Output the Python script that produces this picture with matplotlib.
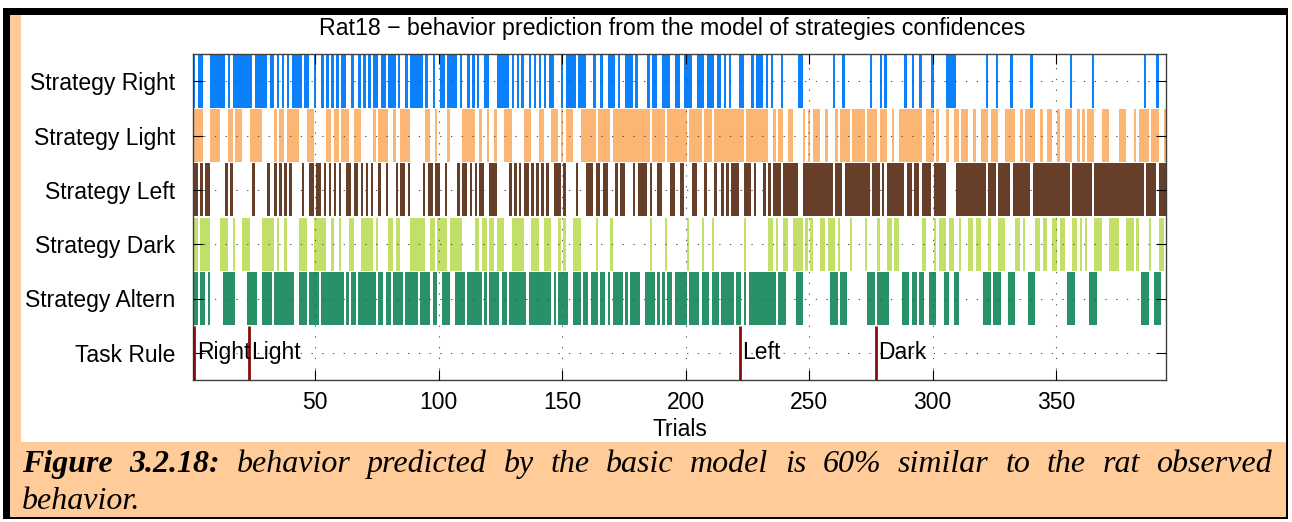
import matplotlib
matplotlib.use("Agg")
import matplotlib.pyplot as plt
from matplotlib.patches import Rectangle

# ---------------------------------------------------------------- data
n_trials = 394
row_labels = ["Strategy Right", "Strategy Light", "Strategy Left",
              "Strategy Dark", "Strategy Altern", "Task Rule"]
row_colors = ["#0a80fa", "#fdb574", "#673f29", "#c2df6a", "#289168"]

# trials (runs "a-b", inclusive) on which each strategy is predicted
right_runs = ("1,3-4,8-13,15,17-24,26-30,32-33,35,37,39,41-44,46-47,50,53,55,57,59,61-62,65,68,70,72,"
              "74-75,77-78,80-82,84,87,89-93,95,98,101-102,104-107,109,112,114,116,119-120,124-128,130,"
              "132,134,137,139,141,143,145-146,150,152-155,157-159,163,166,169-171,173,176-178,180,185,"
              "187-188,191-193,196-197,200-202,205-207,209-211,213-214,216,218,222-223,227,229-231,233,"
              "235,239,246-247,260,264,275,279,281,289,292,295,300,306-309,322,326,332,340,356,365,386,391")
light_runs = ("1-4,8-11,15-16,18-20,24-28,34,36-37,39-43,47-49,55-56,58-59,61-63,66-68,74,76-79,82,85-88,"
              "95-96,99,104,110-114,117,120,123,127-129,135-137,141-142,146-148,150,152-154,158-163,"
              "165-169,171-185,187-191,193-200,202-206,208-210,212-223,225-233,236,238-239,242-243,248,"
              "250,252-254,257,261,263-266,268-272,274-277,279-281,284,287-295,298-300,302,306,309-310,"
              "312-314,317,320-322,324-326,330-333,336,338-341,344,347-348,351,354-356,359,361,363-365,"
              "369-371,376-378,382,384-387,389-391,394")
left_runs = ("1-2,4,6-7,14,16,25,31,34,36,38,40,45,48-49,51-52,54,56,58,60,63-64,66-67,69,71,73,76,79,"
             "83,85-86,88,94,96-97,99-100,103,108,110-111,113,115,117-118,121-123,129,131,133,135-136,"
             "138,140,142,144,147-149,151,156,160-162,164-165,167-168,172,174-175,179,181-184,186,"
             "189-190,194-195,198-199,203-204,208,212,215,217,219-221,224-226,228,232,234,236-238,"
             "240-245,248-259,261-263,265-274,276-278,280,282-288,290-291,293-294,296-299,301-305,"
             "310-321,323-325,327-331,333-339,341-355,357-364,366-385,387-390,392-394")
dark_runs = ("1-2,4-7,12-14,17,21-23,29-33,35,38,44-46,50-54,57,60,64-65,69-73,75,80-81,83-84,89-94,"
             "97-98,100-103,105-109,115-116,118-119,121-122,124-126,130-134,138-140,143-145,149,151,"
             "155-157,164,170,186,192,201,207,211,224,234-235,237,240-241,244-247,249,251,255-256,"
             "258-260,262,267,273,278,282-283,285-286,296-297,301,303-305,307-308,311,315-316,318-319,"
             "323,327-329,334-335,337,342-343,345-346,349-350,352-353,357-358,360,362,366-368,372-375,"
             "379-381,383,388,392-393")
altern_runs = ("1-2,4-5,7,13-17,23-26,29-32,34-41,44-46,48-51,53-61,63,65-66,68-74,76-77,79-80,82-85,"
               "87-91,93-96,98-99,102-104,107-110,112-117,119,121-124,126-127,129-135,137-145,147,"
               "149-152,155-157,159-160,162-164,166-167,169,171-174,176,178-181,184-187,189,191,193-194,"
               "196-200,202-205,207-209,211-213,215-219,221-222,224,226-236,238-240,245-247,259-261,"
               "263-265,274-276,278-282,288-290,292-293,295-296,299-301,305-306,309-310,321-323,325-327,"
               "331-333,339-341,355-357,364-366,385-387,390-392")

rule_starts = [1, 23, 222, 277]
rule_names = ["Right", "Light", "Left", "Dark"]

x_ticks = [50, 100, 150, 200, 250, 300, 350]

title = "Rat18 \u2212 behavior prediction from the model of strategies confidences"
caption_line1 = [("Figure", True), ("3.2.18:", True), ("behavior", False), ("predicted", False),
                 ("by", False), ("the", False), ("basic", False), ("model", False), ("is", False),
                 ("60%", False), ("similar", False), ("to", False), ("the", False), ("rat", False),
                 ("observed", False)]
caption_line2 = "behavior."


def parse_runs(spec):
    runs = []
    for part in spec.split(","):
        a, _, b = part.partition("-")
        runs.append((int(a), int(b or a)))
    return runs


strategy_runs = [parse_runs(s) for s in (right_runs, light_runs, left_runs, dark_runs, altern_runs)]

# ---------------------------------------------------------------- figure
plt.rcParams["font.family"] = ["Liberation Sans", "DejaVu Sans"]
W, H = 1292, 522
fig = plt.figure(figsize=(W / 100, H / 100), dpi=100)
fig.patch.set_facecolor("white")


def frect(x0, y0, x1, y1, color, z):
    fig.add_artist(Rectangle((x0 / W, 1 - y1 / H), (x1 - x0) / W, (y1 - y0) / H,
                             transform=fig.transFigure, facecolor=color,
                             edgecolor="none", zorder=z))


# page frame: black border, peach fill, white plot panel
frect(3, 8, 1288, 519, "black", -30)
frect(10, 15, 1286, 517, "#ffcc99", -29)
frect(21, 15, 1286, 442, "white", -28)

ax_l, ax_r, ax_t, ax_b = 193, 1166, 54, 380
ax = fig.add_axes([ax_l / W, 1 - ax_b / H, (ax_r - ax_l) / W, (ax_b - ax_t) / H])

for i, (runs, color) in enumerate(zip(strategy_runs, row_colors)):
    row = i + 1
    ax.broken_barh([(a - 0.5, b - a + 1) for a, b in runs], (row - 0.485, 0.97),
                   facecolors=color, edgecolors="none", zorder=1)

ax.vlines(rule_starts, 5.5, 6.5, colors="#8b0a0a", linewidth=2.0, zorder=3)
for s, name in zip(rule_starts, rule_names):
    ax.text(s + 1.0, 6.0, name, ha="left", va="center", fontsize=16.5, zorder=4)

ax.set_xlim(0.5, n_trials + 0.5)
ax.set_ylim(6.5, 0.5)
ax.set_xticks(x_ticks)
ax.set_yticks(range(1, 7))
ax.set_yticklabels(row_labels)
ax.set_axisbelow(False)
ax.grid(True, linestyle=(0, (1.2, 9.1)), linewidth=0.75, color="0.3")
ax.tick_params(direction="in", length=7, width=0.8, top=True, right=True,
               labelsize=16.5, colors="black")
ax.tick_params(axis="x", pad=8)
ax.tick_params(axis="y", pad=13)
for sp in ax.spines.values():
    sp.set_color("0.25")
    sp.set_linewidth(1.0)

ax.set_title(title, fontsize=16.7, pad=14, x=0.492)
fig.text((ax_l + ax_r) / 2 / W, 1 - 429 / H, "Trials", ha="center", va="center", fontsize=16.5)

# ---------------------------------------------------------------- justified caption
cap_font = dict(fontsize=23, family=["Liberation Serif", "DejaVu Serif"], style="italic")
x_left, x_right = 22, 1272
base1, base2 = 472, 509
texts = []
for word, bold in caption_line1:
    texts.append(fig.text(0, 1 - base1 / H, word, ha="left", va="baseline",
                          weight="bold" if bold else "normal", **cap_font))
fig.text(x_left / W, 1 - base2 / H, caption_line2, ha="left", va="baseline", **cap_font)

fig.canvas.draw()
renderer = fig.canvas.get_renderer()
widths = [t.get_window_extent(renderer).width for t in texts]
gap = (x_right - x_left - sum(widths)) / (len(texts) - 1)
x = x_left
for t, w in zip(texts, widths):
    t.set_x(x / W)
    x += w + gap

fig.savefig("out.png", dpi=100)
